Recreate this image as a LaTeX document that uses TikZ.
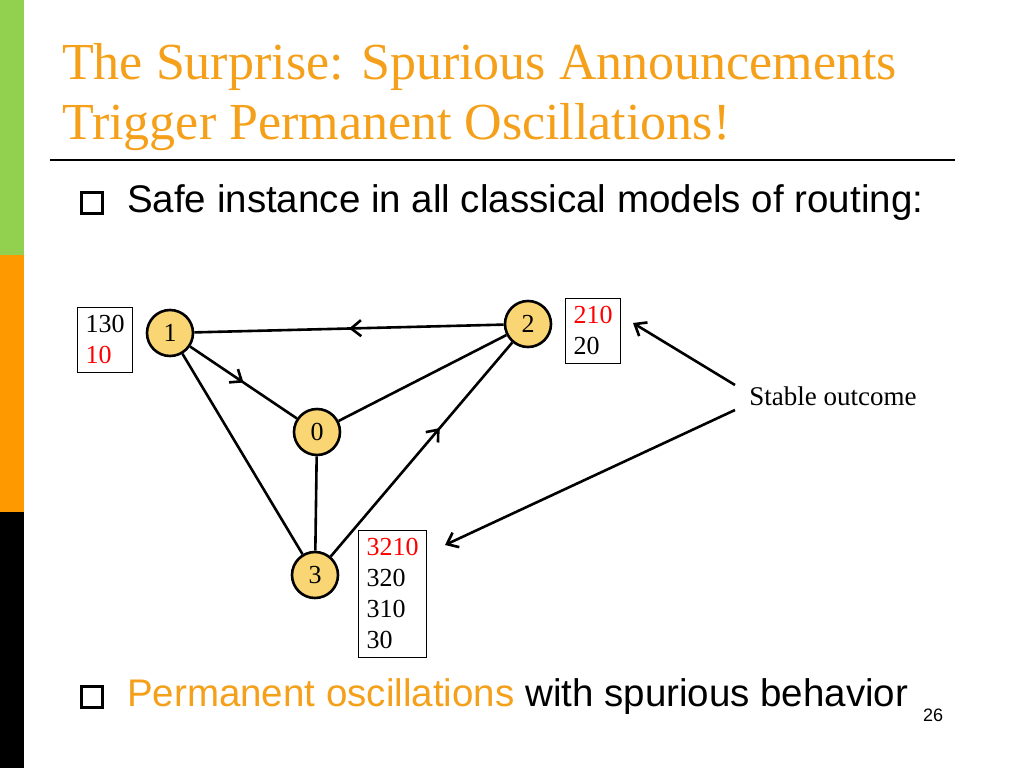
\documentclass[tikz,border=0pt]{standalone}
\usepackage{fontspec}
\setmainfont{Liberation Serif}
\newfontfamily\bodysans{Liberation Sans}
\usetikzlibrary{arrows.meta,decorations.markings}
\definecolor{ttl}{HTML}{F5A01A}
\definecolor{nodefill}{HTML}{F9D673}
\definecolor{barg}{HTML}{92D050}
\definecolor{baro}{HTML}{FF9900}
\tikzset{
 rnode/.style={circle,draw,line width=2.6pt,fill=nodefill,minimum size=46pt,inner sep=0pt,font=\fontsize{26}{26}\selectfont},
 edge/.style={line width=2.6pt},
 midarr/.style={edge,postaction={decorate},decoration={markings,mark=at position #1 with {\arrow{Straight Barb[length=10pt,width=16pt,line width=2.6pt]}}}},
 tbl/.style={draw,line width=1pt,align=left,inner sep=8pt,font=\fontsize{26}{31}\selectfont,anchor=north west},
 bul/.style={draw,line width=2.2pt,minimum size=21pt,inner sep=0pt},
 btext/.style={anchor=west,font=\bodysans\fontsize{38.5}{38.5}\selectfont,inner sep=0pt},
 callout/.style={line width=2.6pt,-{Straight Barb[length=10pt,width=16pt,line width=2.6pt]}}
}
\begin{document}
\begin{tikzpicture}[x=1pt,y=-1pt]
\useasboundingbox (0,0) rectangle (1024,768);
\fill[barg] (0,0) rectangle (24,255);
\fill[baro] (0,255) rectangle (24,512);
\fill[black] (0,512) rectangle (24,768);
\node[anchor=west,text=ttl,align=left,font=\fontsize{52}{60}\selectfont,inner sep=0pt] (title) at (62,97) {The Surprise: Spurious Announcements\\Trigger Permanent Oscillations!};
\draw[line width=2.2pt] (50,160) -- (955,160);
\node[bul] (b1) at (92,203) {};
\node[btext] (t1) at (127,203) {Safe instance in all classical models of routing:};
\node[bul] (b2) at (92,697) {};
\node[btext] (t2) at (127,697) {\textcolor{ttl}{Permanent oscillations} with spurious behavior};
\node[anchor=west,inner sep=0pt,font=\bodysans\fontsize{18}{18}\selectfont] (pg) at (923,715) {26};
\node[rnode] (n1) at (170,333) {1};
\node[rnode] (n2) at (528,324) {2};
\node[rnode] (n0) at (317,432) {0};
\node[rnode] (n3) at (315,575) {3};
\draw[midarr=0.5] (n2) -- (n1);
\draw[midarr=0.5] (n1) -- (n0);
\draw[midarr=0.6] (n3) -- (n2);
\draw[edge] (n0) -- (n2);
\draw[edge] (n1) -- (n3);
\draw[edge] (n0) -- (n3);
\node[tbl] (tb1) at (77,307) {130\\\textcolor{red}{10}};
\node[tbl] (tb2) at (565,298) {\textcolor{red}{210}\\20};
\node[tbl] (tb3) at (358,530) {\textcolor{red}{3210}\\320\\310\\30};
\node[font=\fontsize{27}{27}\selectfont] (so) at (833,396) {Stable outcome};
\coordinate (s1) at (735,385);
\coordinate (s2) at (735,410);
\coordinate (e1) at (633,323);
\coordinate (e2) at (445,545);
\draw[callout] (s1) -- (e1);
\draw[callout] (s2) -- (e2);
\end{tikzpicture}
\end{document}
